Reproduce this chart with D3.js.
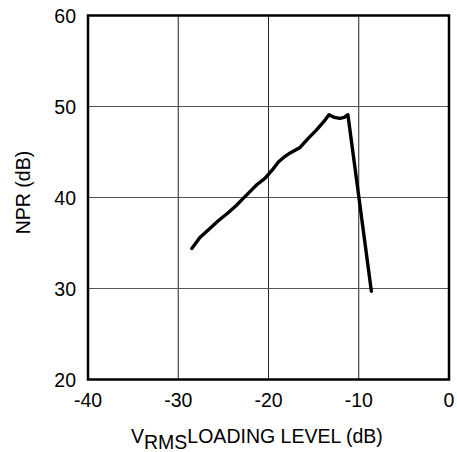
<!DOCTYPE html>
<html>
<head>
<meta charset="utf-8">
<script src="https://cdn.jsdelivr.net/npm/d3@7"></script>
<style>
  body { margin: 0; background: #fff; }
  text { font-family: "Liberation Sans", Arial, sans-serif; fill: #000; }
</style>
</head>
<body>
<svg id="chart"></svg>
<script>
// NPR vs loading level curve
const loadingLevel = [-28.5, -27.6, -26.5, -25.5, -24.5, -23.6, -22.8, -22.0, -21.3, -20.4, -19.6, -18.9, -18.2, -17.6, -16.5, -15.6, -14.7, -13.9, -13.3, -12.7, -12.1, -11.6, -11.2, -8.6];
const npr = [34.4, 35.6, 36.6, 37.5, 38.3, 39.1, 39.9, 40.7, 41.4, 42.1, 43.0, 43.9, 44.5, 44.9, 45.5, 46.5, 47.4, 48.3, 49.1, 48.8, 48.7, 48.8, 49.1, 29.7];

const xTicks = [-40, -30, -20, -10, 0];
const yTicks = [20, 30, 40, 50, 60];

const width = 457;
const height = 452;
const margin = { top: 15.5, right: 8, bottom: 72.5, left: 88 };
const fontSize = 19.5;

const svg = d3.select("#chart").attr("width", width).attr("height", height);

const x = d3.scaleLinear().domain([-40, 0]).range([margin.left, width - margin.right]);
const y = d3.scaleLinear().domain([20, 60]).range([height - margin.bottom, margin.top]);

// Grid lines
svg.append("g")
  .selectAll("line")
  .data(xTicks.slice(1, -1))
  .enter()
  .append("line")
  .attr("x1", (d) => x(d))
  .attr("x2", (d) => x(d))
  .attr("y1", y(20))
  .attr("y2", y(60))
  .attr("stroke", "#222")
  .attr("stroke-width", 1);

svg.append("g")
  .selectAll("line")
  .data(yTicks.slice(1, -1))
  .enter()
  .append("line")
  .attr("x1", x(-40))
  .attr("x2", x(0))
  .attr("y1", (d) => y(d))
  .attr("y2", (d) => y(d))
  .attr("stroke", "#555")
  .attr("stroke-width", 1.2);

// Frame
svg.append("rect")
  .attr("x", x(-40))
  .attr("y", y(60))
  .attr("width", x(0) - x(-40))
  .attr("height", y(20) - y(60))
  .attr("fill", "none")
  .attr("stroke", "#000")
  .attr("stroke-width", 2.5);

// Tick labels
svg.append("g")
  .selectAll("text")
  .data(xTicks)
  .enter()
  .append("text")
  .attr("x", (d) => x(d))
  .attr("y", y(20) + 27)
  .attr("text-anchor", "middle")
  .attr("font-size", fontSize)
  .text((d) => d);

svg.append("g")
  .selectAll("text")
  .data(yTicks)
  .enter()
  .append("text")
  .attr("x", x(-40) - 12)
  .attr("y", (d) => y(d) + 7)
  .attr("text-anchor", "end")
  .attr("font-size", fontSize)
  .text((d) => d);

// Data curve
const line = d3.line()
  .x((d, i) => x(loadingLevel[i]))
  .y((d) => y(d));

svg.append("path")
  .datum(npr)
  .attr("d", line)
  .attr("fill", "none")
  .attr("stroke", "#000")
  .attr("stroke-width", 3.4)
  .attr("stroke-linejoin", "round")
  .attr("stroke-linecap", "round");

// Axis titles
const xTitle = svg.append("text")
  .attr("x", 131)
  .attr("y", 443)
  .attr("font-size", fontSize);
xTitle.append("tspan").text("V");
xTitle.append("tspan").attr("dy", 5.5).text("RMS");
xTitle.append("tspan").attr("dy", -5.5).text("LOADING LEVEL (dB)");

svg.append("text")
  .attr("transform", `translate(30, ${(y(20) + y(60)) / 2 - 5}) rotate(-90)`)
  .attr("text-anchor", "middle")
  .attr("font-size", fontSize)
  .text("NPR (dB)");
</script>
</body>
</html>
